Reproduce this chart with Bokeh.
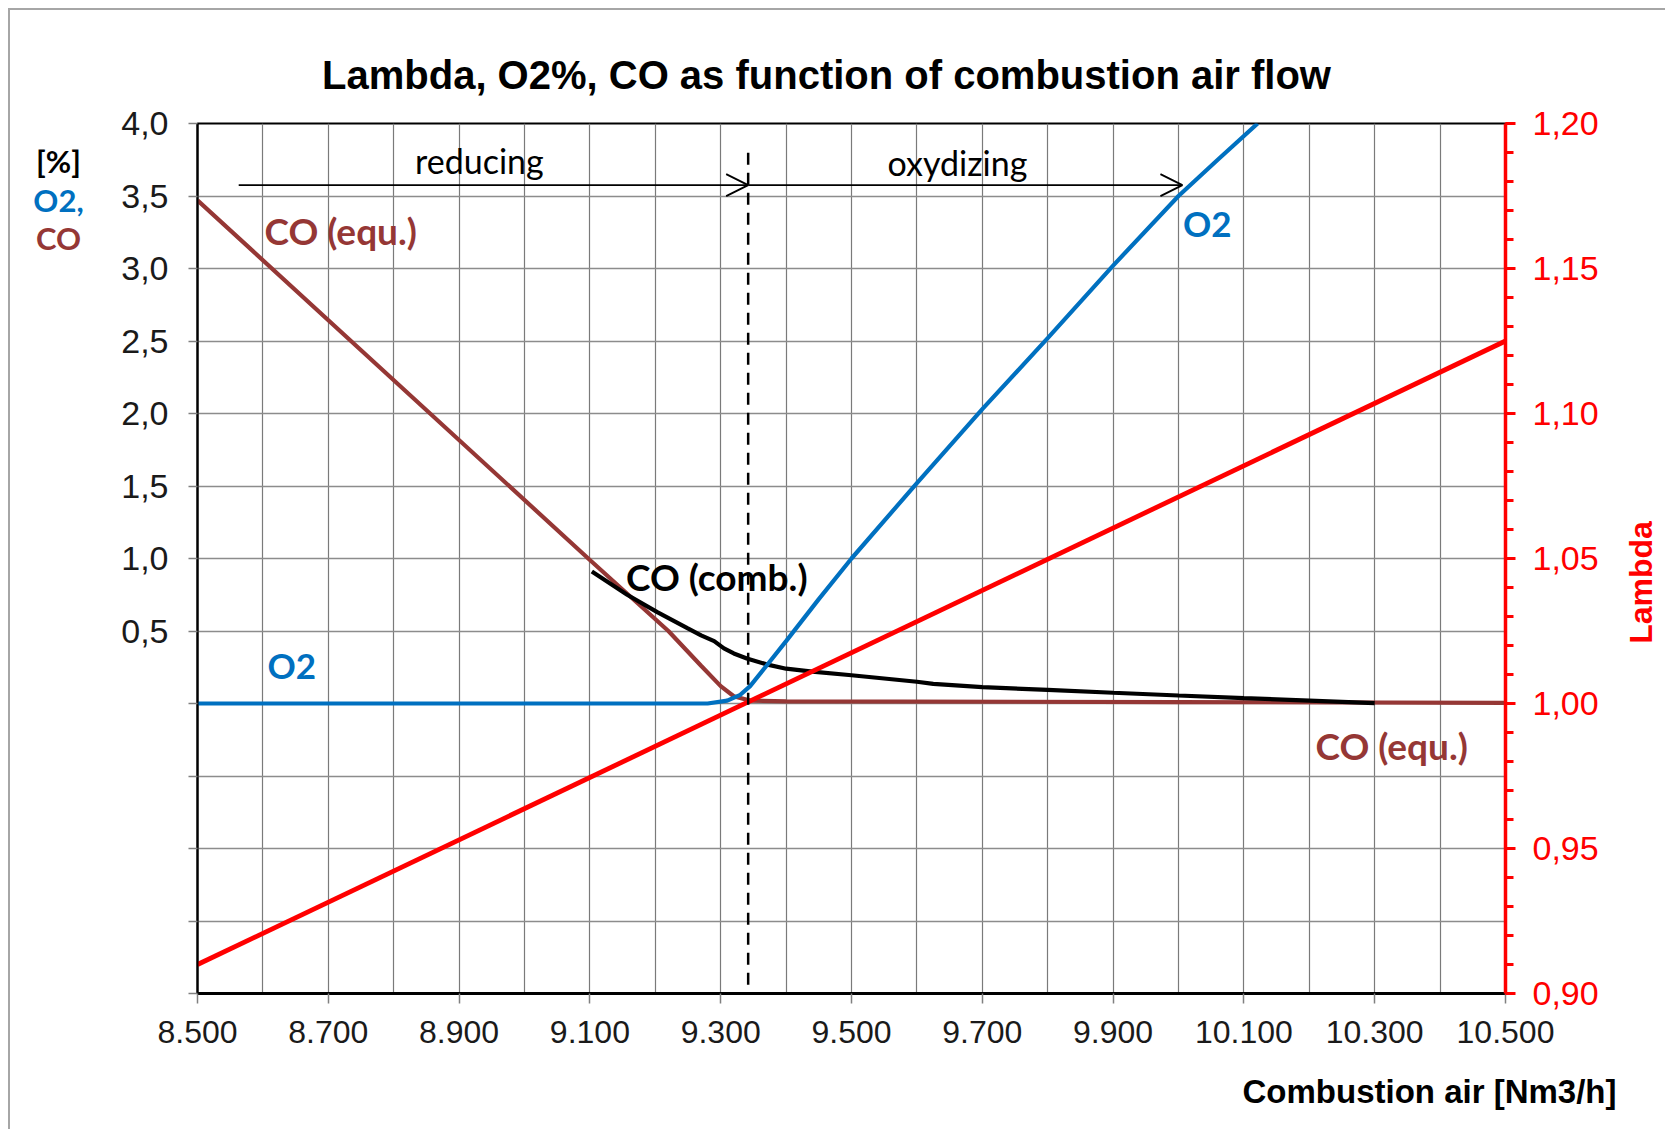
import math
from bokeh.plotting import figure
from bokeh.models import (Range1d, LinearAxis, FixedTicker, Label, Arrow,
                          OpenHead, ColumnDataSource)
from bokeh.embed import file_html
from bokeh.resources import INLINE

# ---------------- data ----------------
air_ticks = [8500, 8700, 8900, 9100, 9300, 9500, 9700, 9900, 10100, 10300, 10500]
air_tick_labels = ["8.500", "8.700", "8.900", "9.100", "9.300", "9.500",
                   "9.700", "9.900", "10.100", "10.300", "10.500"]
air_grid = [8600, 8700, 8800, 8900, 9000, 9100, 9200, 9300, 9400, 9500,
            9600, 9700, 9800, 9900, 10000, 10100, 10200, 10300, 10400]

pct_ticks = [-2.0, -1.5, -1.0, -0.5, 0.0, 0.5, 1.0, 1.5, 2.0, 2.5, 3.0, 3.5, 4.0]
pct_tick_labels = ["", "", "", "", "", "0,5", "1,0", "1,5", "2,0", "2,5",
                   "3,0", "3,5", "4,0"]

lam_ticks = [0.90, 0.95, 1.00, 1.05, 1.10, 1.15, 1.20]
lam_tick_labels = ["0,90", "0,95", "1,00", "1,05", "1,10", "1,15", "1,20"]
lam_minor = [0.90, 0.91, 0.92, 0.93, 0.94, 0.95, 0.96, 0.97, 0.98, 0.99, 1.00,
             1.01, 1.02, 1.03, 1.04, 1.05, 1.06, 1.07, 1.08, 1.09, 1.10,
             1.11, 1.12, 1.13, 1.14, 1.15, 1.16, 1.17, 1.18, 1.19, 1.20]

# Lambda (right axis)
lam_x = [8500, 10500]
lam_y = [0.910, 1.125]

# O2 [%]
o2_x = [8500, 9280, 9310, 9330, 9345, 9370, 9400, 9450, 9500, 9600, 9700,
        9800, 9900, 10000, 10060, 10121]
o2_y = [0.0, 0.0, 0.02, 0.06, 0.12, 0.26, 0.43, 0.72, 1.0, 1.52, 2.03,
        2.52, 3.02, 3.50, 3.75, 4.0]

# CO equilibrium [%]
co_equ_x = [8500, 9100, 9220, 9270, 9300, 9320, 9345, 9400, 10000, 10500]
co_equ_y = [3.47, 0.99, 0.50, 0.26, 0.12, 0.05, 0.02, 0.015, 0.01, 0.005]

# CO combustion [%]
co_comb_x = [9103, 9157, 9203, 9249, 9270, 9290, 9305, 9320, 9340, 9370,
             9400, 9440, 9500, 9600, 9625, 9700, 9800, 9900, 10000, 10100,
             10200, 10300]
co_comb_y = [0.91, 0.75, 0.63, 0.52, 0.47, 0.43, 0.38, 0.345, 0.31, 0.27,
             0.24, 0.22, 0.195, 0.15, 0.135, 0.113, 0.094, 0.074, 0.055,
             0.037, 0.02, 0.003]

# stoichiometric boundary (dashed)
stoich_x = [9342, 9342]
stoich_y = [-1.94, 3.81]

# region arrows
arrow_x_start = [8563, 9342]
arrow_x_end = [9342, 10006]
arrow_y = [3.575, 3.575]

# ---------------- figure ----------------
BLUE = "#0070C0"
BROWN = "#953735"
RED = "#FF0000"
ARIAL = "Liberation Sans"
CAL = "Lato"

p = figure(width=1657, height=1121,
           x_range=Range1d(8500, 10500), y_range=Range1d(-2, 4),
           output_backend="svg", toolbar_location=None,
           min_border_left=187, min_border_right=162,
           min_border_top=113, min_border_bottom=138)
p.styles = {"margin-left": "8px", "margin-top": "8px",
            "border-left": "2px solid #a6a6a6", "border-top": "2px solid #a6a6a6"}
p.background_fill_color = "white"
p.border_fill_color = "white"
p.outline_line_color = "black"
p.outline_line_width = 2

# x axis
xa = p.xaxis[0]
xa.ticker = FixedTicker(ticks=air_ticks)
xa.major_label_overrides = dict(zip(air_ticks, air_tick_labels))
xa.axis_line_color = "black"
xa.axis_line_width = 3
xa.major_tick_in = 0
xa.major_tick_out = 10
xa.major_tick_line_color = "#808080"
xa.major_tick_line_width = 1.5
xa.minor_tick_out = 0
xa.minor_tick_in = 0
xa.major_label_text_font = ARIAL
xa.major_label_text_font_size = "32px"
xa.major_label_text_color = "#1a1a1a"
xa.major_label_standoff = 17

# left axis
ya = p.yaxis[0]
ya.ticker = FixedTicker(ticks=pct_ticks)
ya.major_label_overrides = dict(zip(pct_ticks, pct_tick_labels))
ya.axis_line_color = "black"
ya.axis_line_width = 2
ya.major_tick_in = 0
ya.major_tick_out = 9
ya.major_tick_line_color = "#808080"
ya.major_tick_line_width = 1.5
ya.minor_tick_out = 0
ya.minor_tick_in = 0
ya.major_label_text_font = ARIAL
ya.major_label_text_font_size = "34px"
ya.major_label_text_color = "#1a1a1a"
ya.major_label_standoff = 20

# right axis (lambda)
p.extra_y_ranges = {"lam": Range1d(0.90, 1.20)}
ra = LinearAxis(y_range_name="lam",
                ticker=FixedTicker(ticks=lam_ticks, minor_ticks=lam_minor))
ra.major_label_overrides = dict(zip(lam_ticks, lam_tick_labels))
ra.axis_line_color = RED
ra.axis_line_width = 3.5
ra.major_tick_in = 0
ra.major_tick_out = 10
ra.major_tick_line_color = RED
ra.major_tick_line_width = 3
ra.minor_tick_in = 0
ra.minor_tick_out = 8
ra.minor_tick_line_color = RED
ra.minor_tick_line_width = 3
ra.major_label_text_font = ARIAL
ra.major_label_text_font_size = "34px"
ra.major_label_text_color = RED
ra.major_label_standoff = 17
p.add_layout(ra, "right")

# grids
p.xgrid.ticker = FixedTicker(ticks=air_grid)
p.xgrid.grid_line_color = "#7a7a7a"
p.xgrid.grid_line_width = 1.2
p.ygrid.ticker = FixedTicker(ticks=pct_ticks)
p.ygrid.grid_line_color = "#8c8c8c"
p.ygrid.grid_line_width = 1.5

# ---------------- series ----------------
p.line(co_equ_x, co_equ_y, line_color=BROWN, line_width=4.2)
p.line(co_comb_x, co_comb_y, line_color="black", line_width=4.2)
p.line(o2_x, o2_y, line_color=BLUE, line_width=4.2)
p.line(lam_x, lam_y, line_color=RED, line_width=4.8, y_range_name="lam")
p.line(stoich_x, stoich_y, line_color="black", line_width=2.5, line_dash="12 8")

arrow_src = ColumnDataSource(dict(x0=arrow_x_start, x1=arrow_x_end, y=arrow_y))
p.add_layout(Arrow(source=arrow_src, x_start="x0", y_start="y", x_end="x1", y_end="y",
                   line_color="black", line_width=1.8,
                   end=OpenHead(size=22, line_width=1.8, line_color="black")))

# ---------------- texts ----------------
def lab(x, y, text, font, size, color, style="normal", align="center",
        baseline="alphabetic", angle=0.0, units="data", place="center"):
    p.add_layout(Label(x=x, y=y, x_units=units, y_units=units, text=text,
                       text_font=font, text_font_size=size,
                       text_color=color, text_font_style=style, text_align=align,
                       text_baseline=baseline, angle=angle), place)

# outside the frame: canvas pixel positions, hosted in side panels
lab(814, 62, "Lambda, O2%, CO as function of combustion air flow",
    ARIAL, "40px", "black", "bold", units="canvas", place="above")
lab(46, 148, "[%]", CAL, "31px", "black", "bold", units="canvas", place="above")
lab(46, 187, "O2,", CAL, "31px", BLUE, "bold", units="canvas", place="left")
lab(46, 225, "CO", CAL, "31px", BROWN, "bold", units="canvas", place="left")
lab(1604, 1079, "Combustion air [Nm3/h]", ARIAL, "33px", "black", "bold",
    align="right", units="canvas", place="below")
lab(1628, 570, "Lambda", ARIAL, "32px", RED, "bold", baseline="middle",
    angle=math.pi / 2, units="canvas", place="right")

# inside the frame: data positions
lab(8931, 3.747, "reducing", CAL, "34px", "black")
lab(9662, 3.733, "oxydizing", CAL, "34px", "black")
lab(8719, 3.26, "CO (equ.)", CAL, "37px", BROWN, "bold")
lab(10326, -0.29, "CO (equ.)", CAL, "37px", BROWN, "bold")
lab(8644, 0.265, "O2", CAL, "35px", BLUE, "bold")
lab(10044, 3.317, "O2", CAL, "35px", BLUE, "bold")
lab(9294, 0.874, "CO (comb.)", CAL, "37px", "black", "bold")

open("out.html", "w").write(file_html(p, INLINE))
